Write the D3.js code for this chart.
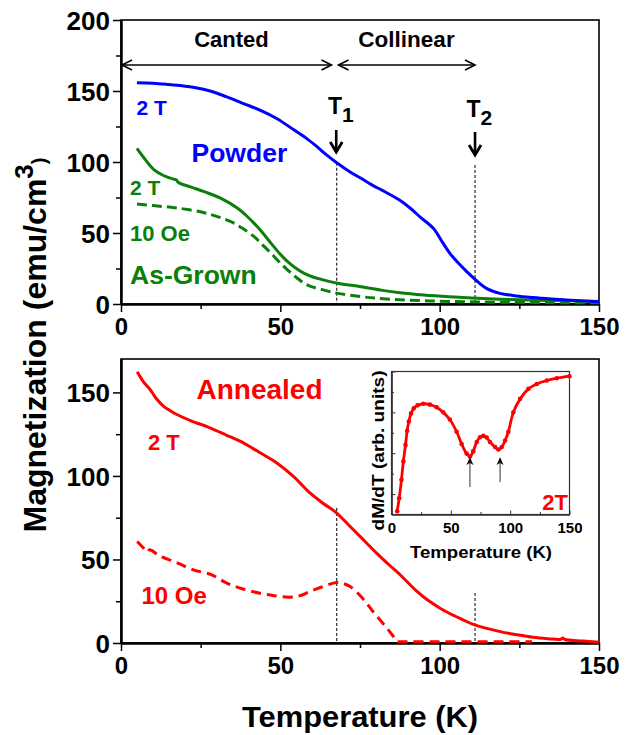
<!DOCTYPE html>
<html><head><meta charset="utf-8">
<script src="https://cdn.jsdelivr.net/npm/d3@7"></script>
<style>
body{margin:0;background:#fff}
text{font-family:"Liberation Sans",Arial,Helvetica,sans-serif;font-weight:bold}
</style>
</head><body>
<svg id="c" width="635" height="735"></svg>
<script>
// ---------------- data ----------------
const xTicks = [0, 50, 100, 150];
const xMinor = [25, 75, 125];
const yTopTicks = [0, 50, 100, 150, 200];
const yTopMinor = [25, 75, 125, 175];
const yBotTicks = [0, 50, 100, 150];
const yBotMinor = [25, 75, 125];

const powderT = [5,10,15,22.6,28,33,38,43.6,49,54,58,61.4,64.5,67.7,71.9,75.3,79,82,87.5,90.7,94,98,101,103.2,106,108.5,111.1,114.7,118.9,124,129.3,135,139.8,145,150];
const powderM = [155.8,155.5,154.5,152.6,150,146,141.5,136.6,130.5,123,117,111,105,99.5,93,88.5,83.5,80,73,67.6,61,53.3,43,35.7,28.5,22.8,17.4,11,7.5,5.7,4.5,3.5,2.8,2.2,1.6];

const grown2T_T = [5,7,10.4,13.3,16.7,17.3,18,22,26.1,31.4,36.6,39.2,41.8,44.5,47.1,49.7,52.3,55,57.5,60,62.8,68,75.3,82,87.5,95,103,110,119,130,140,150];
const grown2T_M = [109.6,103.5,94.4,90.5,87.8,87.5,85.6,82.3,79.1,74.4,67.4,62.5,56.8,50,42.7,35.8,29.8,25,21.6,19.2,17.4,14.6,12.2,9.6,7.9,6.3,5.1,4.3,3.4,2.7,2.3,1.8];

const grown10_T = [5,10,15.7,21,26.1,30,34.5,38,41.8,44.5,47.1,49.7,52.3,55,57.5,60,62.8,68,75.3,80,87.5,97,108,118,129,140,150];
const grown10_M = [70.4,69.3,68.1,66.5,64.3,61.7,58,53.5,47.4,41.5,35.7,29.5,23.9,18.7,14.6,12,10.3,7.5,5.2,4.1,3,2.2,1.6,1.3,1.1,0.9,0.8];

const ann2T_T = [5.1,7,9.1,11,13.3,15.5,17.5,22,27.9,33,38.4,43.5,48.9,54.1,59.3,63.5,67.7,71.5,75,80.2,84,87.5,92.8,96,100,103,107,111,119,124,129.3,134,138,138.6,139.3,145,150];
const ann2T_M = [162.4,156.5,151.8,146.5,141.8,139,136.8,133,128.8,124.5,119.8,114,107.8,99.8,89.8,83.5,77.8,70.5,63.8,53.8,47,41,31,26,21,17.8,14.2,10.8,6.8,5,3.4,2.6,2.2,3.0,2.1,1.2,0.4];

const ann10_T = [5.1,7.5,8.3,9,12.2,17,22.7,28.5,33.2,38,43.6,48,53,56,59.3,63,67.7,70,71.9,74.5,77.1,79,81.3,83.5,85.5,86.5,87.5,90,100,110,120,129];
const ann10_M = [60.8,56,54.5,55.8,52,48.5,43.8,40.8,35.8,32.5,29.8,28.3,27.4,28.2,30.8,33.5,36.2,35.5,33.8,29.5,23.8,19,13.8,8.8,3.8,0.8,0.8,0.8,0.8,0.8,0.8,0.8];

const insetT = [4.8,6.5,8.4,10,11.8,13.2,14.6,16.5,18.8,22,26.7,32.3,38,43.6,49.2,54.9,59.1,63.3,66.1,68.9,71.8,74.6,77.4,80.2,83,87.3,90.1,92.9,95.7,98.5,102.7,108.4,115.4,122.4,130.9,139.3,150];
const insetV = [0.16,0.8,1.7,2.6,3.4,4.1,4.55,4.95,5.2,5.35,5.42,5.38,5.25,5.0,4.65,4.05,3.45,2.98,2.84,3.1,3.55,3.78,3.85,3.77,3.55,3.3,3.18,3.3,3.62,4.05,5.0,5.66,6.15,6.39,6.56,6.67,6.77];
const insetYMajor = [1, 3, 5, 7];
const insetYMinor = [2, 4, 6];
const insetXMajor = [0, 50, 100, 150];
const insetXMinor = [25, 75, 125];

const T1 = 67.7, T2 = 111.1;

// ---------------- drawing ----------------
const svg = d3.select("#c");
const zip = (a, b) => a.map((v, i) => [v, b[i]]);

const x = d3.scaleLinear().domain([0, 150]).range([121, 599]);
const yTop = d3.scaleLinear().domain([0, 200]).range([304, 20]);
const yBot = d3.scaleLinear().domain([0, 170]).range([643, 359]);

const BLUE = "#0000ff", GREEN = "#0a800a", RED = "#ff0000";

function axes(yS, yT, yM, top, bottom) {
  svg.append("rect").attr("x", x(0)).attr("y", top).attr("width", x(150) - x(0)).attr("height", bottom - top)
    .attr("fill", "none").attr("stroke", "#000").attr("stroke-width", 1.6);
  const g1 = svg.append("g").attr("transform", `translate(0,${bottom})`)
    .call(d3.axisBottom(x).tickValues(xTicks).tickSize(8).tickSizeOuter(0).tickPadding(6).tickFormat(d3.format("d")));
  const g2 = svg.append("g").attr("transform", `translate(0,${bottom})`)
    .call(d3.axisBottom(x).tickValues(xMinor).tickSize(5).tickSizeOuter(0).tickFormat(""));
  const g3 = svg.append("g").attr("transform", `translate(${x(0)},0)`)
    .call(d3.axisLeft(yS).tickValues(yT).tickSize(8).tickSizeOuter(0).tickPadding(3).tickFormat(d3.format("d")));
  const g4 = svg.append("g").attr("transform", `translate(${x(0)},0)`)
    .call(d3.axisLeft(yS).tickValues(yM).tickSize(5).tickSizeOuter(0).tickFormat(""));
  [g1, g2, g3, g4].forEach(g => {
    g.select(".domain").attr("stroke-width", 2);
    g.selectAll(".tick line").attr("stroke-width", 1.5);
  });
  g1.selectAll("text").attr("font-size", 24).attr("fill", "#000").attr("font-family", "Liberation Sans, Arial, sans-serif").attr("font-weight", "bold");
  g3.selectAll("text").attr("font-size", 26).attr("fill", "#000").attr("font-family", "Liberation Sans, Arial, sans-serif").attr("font-weight", "bold").attr("dy", "0.36em");
}

axes(yTop, yTopTicks, yTopMinor, 20, 304);
axes(yBot, yBotTicks, yBotMinor, 359, 643);

const curve = d3.curveCatmullRom.alpha(0.5);
const lineTop = d3.line().x(d => x(d[0])).y(d => yTop(d[1])).curve(curve);
const lineBot = d3.line().x(d => x(d[0])).y(d => yBot(d[1])).curve(curve);

function vdot(T, y1, y2) {
  svg.append("line").attr("x1", x(T)).attr("x2", x(T)).attr("y1", y1).attr("y2", y2)
    .attr("stroke", "#000").attr("stroke-width", 1).attr("stroke-dasharray", "3,2");
}
vdot(T1, yTop(99.5), yTop(0));
vdot(T2, 165, yTop(0));
vdot(T1, 508, yBot(0));
vdot(T2, 593, yBot(0));

svg.append("path").attr("d", lineTop(zip(grown10_T, grown10_M))).attr("fill", "none").attr("stroke", GREEN).attr("stroke-width", 3).attr("stroke-dasharray", "10,5");
svg.append("path").attr("d", lineTop(zip(grown2T_T, grown2T_M))).attr("fill", "none").attr("stroke", GREEN).attr("stroke-width", 3);
svg.append("path").attr("d", lineTop(zip(powderT, powderM))).attr("fill", "none").attr("stroke", BLUE).attr("stroke-width", 3);

svg.append("path").attr("d", lineBot(zip(ann10_T, ann10_M))).attr("fill", "none").attr("stroke", RED).attr("stroke-width", 3).attr("stroke-dasharray", "10,6");
svg.append("path").attr("d", lineBot(zip(ann2T_T, ann2T_M))).attr("fill", "none").attr("stroke", RED).attr("stroke-width", 3);

function hArrow(x1, x2, y) {
  svg.append("line").attr("x1", x1).attr("x2", x2).attr("y1", y).attr("y2", y).attr("stroke", "#000").attr("stroke-width", 1.4);
  svg.append("path").attr("d", `M${x1 + 10},${y - 5}L${x1},${y}L${x1 + 10},${y + 5}`).attr("fill", "none").attr("stroke", "#000").attr("stroke-width", 1.6);
  svg.append("path").attr("d", `M${x2 - 10},${y - 5}L${x2},${y}L${x2 - 10},${y + 5}`).attr("fill", "none").attr("stroke", "#000").attr("stroke-width", 1.6);
}
hArrow(x(0) + 1, 331.5, 65);
hArrow(338.5, x(T2), 65);

function dArrow(xp, y1, y2) {
  svg.append("line").attr("x1", xp).attr("x2", xp).attr("y1", y1).attr("y2", y2 - 1).attr("stroke", "#000").attr("stroke-width", 2.6);
  svg.append("path").attr("d", `M${xp - 6},${y2 - 10}L${xp},${y2}L${xp + 6},${y2 - 10}`).attr("fill", "none").attr("stroke", "#000").attr("stroke-width", 2.8);
}
dArrow(x(T1) - 0.5, 130, 152);
dArrow(x(T2), 132, 155);

function label(txt, xp, yp, size, color, anchor) {
  return svg.append("text").attr("x", xp).attr("y", yp).attr("font-size", size).attr("fill", color)
    .attr("text-anchor", anchor || "start").text(txt);
}
label("Canted", 231.5, 47, 22, "#000", "middle");
label("Collinear", 406.5, 47, 22.5, "#000", "middle");

const t1 = svg.append("text").attr("x", 328).attr("y", 113.5).attr("font-size", 23).attr("fill", "#000");
t1.append("tspan").text("T");
t1.append("tspan").attr("dy", 8).attr("font-size", 21).text("1");
const t2 = svg.append("text").attr("x", 466.5).attr("y", 116.5).attr("font-size", 23).attr("fill", "#000");
t2.append("tspan").text("T");
t2.append("tspan").attr("dy", 8).attr("font-size", 21).text("2");

label("2 T", 136.5, 115, 21, BLUE);
label("Powder", 191.5, 162, 26.5, BLUE);
label("2 T", 130, 195, 21, GREEN);
label("10 Oe", 130, 241, 22, GREEN);
label("As-Grown", 130, 283.5, 26.5, GREEN);

label("Annealed", 196.5, 398.5, 28, RED);
label("2 T", 148, 450, 22, RED);
label("10 Oe", 141.5, 603.5, 24, RED);

svg.append("text").attr("x", 360).attr("y", 727).attr("font-size", 30).attr("fill", "#000")
  .attr("text-anchor", "middle").attr("textLength", 236).attr("lengthAdjust", "spacingAndGlyphs").text("Temperature (K)");
const yl = svg.append("text").attr("transform", "translate(46,345) rotate(-90)").attr("text-anchor", "middle").attr("font-size", 32).attr("fill", "#000");
yl.append("tspan").text("Magnetization (emu/cm");
yl.append("tspan").attr("font-size", 26).attr("dy", -13).text("3");
yl.append("tspan").attr("font-size", 20).attr("dy", 13).text(")");

// ---------------- inset ----------------
const ix = d3.scaleLinear().domain([0, 150]).range([391.5, 569.5]);
const iy = d3.scaleLinear().domain([0, 7]).range([514.5, 371.5]);
svg.append("rect").attr("x", ix(0)).attr("y", iy(7)).attr("width", ix(150) - ix(0)).attr("height", iy(0) - iy(7))
  .attr("fill", "#fff").attr("stroke", "#333").attr("stroke-width", 1.2);
const ig1 = svg.append("g").attr("transform", `translate(0,${iy(0)})`)
  .call(d3.axisBottom(ix).tickValues(insetXMajor).tickSize(-4).tickSizeOuter(0).tickPadding(5).tickFormat(d3.format("d")));
const ig2 = svg.append("g").attr("transform", `translate(0,${iy(0)})`)
  .call(d3.axisBottom(ix).tickValues(insetXMinor).tickSize(-2.5).tickSizeOuter(0).tickFormat(""));
const ig3 = svg.append("g").attr("transform", `translate(${ix(0)},0)`)
  .call(d3.axisLeft(iy).tickValues(insetYMajor).tickSize(-4).tickSizeOuter(0).tickFormat(""));
const ig4 = svg.append("g").attr("transform", `translate(${ix(0)},0)`)
  .call(d3.axisLeft(iy).tickValues(insetYMinor).tickSize(-2.5).tickSizeOuter(0).tickFormat(""));
[ig1, ig2, ig3, ig4].forEach(g => {
  g.select(".domain").attr("stroke", "#333").attr("stroke-width", 1.2);
  g.selectAll(".tick line").attr("stroke", "#333");
});
ig1.selectAll("text").attr("font-size", 15).attr("fill", "#000").attr("font-family", "Liberation Sans, Arial, sans-serif").attr("font-weight", "bold").attr("y", 8).attr("dy", "0.71em");

const iline = d3.line().x(d => ix(d[0])).y(d => iy(d[1])).curve(d3.curveCatmullRom.alpha(0.5));
const idata = zip(insetT, insetV);
svg.append("path").attr("d", iline(idata)).attr("fill", "none").attr("stroke", RED).attr("stroke-width", 2.8);
svg.append("g").selectAll("circle").data(idata).join("circle")
  .attr("cx", d => ix(d[0])).attr("cy", d => iy(d[1])).attr("r", 2.3).attr("fill", RED);

function uArrow(T, y1, y2) {
  svg.append("line").attr("x1", ix(T)).attr("x2", ix(T)).attr("y1", y1).attr("y2", y2 + 4).attr("stroke", "#333").attr("stroke-width", 1);
  svg.append("path").attr("d", `M${ix(T) - 3.5},${y2 + 8}L${ix(T)},${y2}L${ix(T) + 3.5},${y2 + 8}L${ix(T)},${y2 + 6}Z`).attr("fill", "#111");
}
uArrow(66.1, 487, 457);
uArrow(91.5, 482, 457);

label("2T", 568, 510, 22, RED, "end");
svg.append("text").attr("x", 481).attr("y", 558).attr("font-size", 17).attr("fill", "#000")
  .attr("text-anchor", "middle").attr("textLength", 142).attr("lengthAdjust", "spacingAndGlyphs").text("Temperature (K)");
svg.append("text").attr("transform", "translate(384,450.5) rotate(-90)").attr("font-size", 16).attr("fill", "#000")
  .attr("text-anchor", "middle").attr("textLength", 160).attr("lengthAdjust", "spacingAndGlyphs").text("dM/dT (arb. units)");
</script>
</body></html>
